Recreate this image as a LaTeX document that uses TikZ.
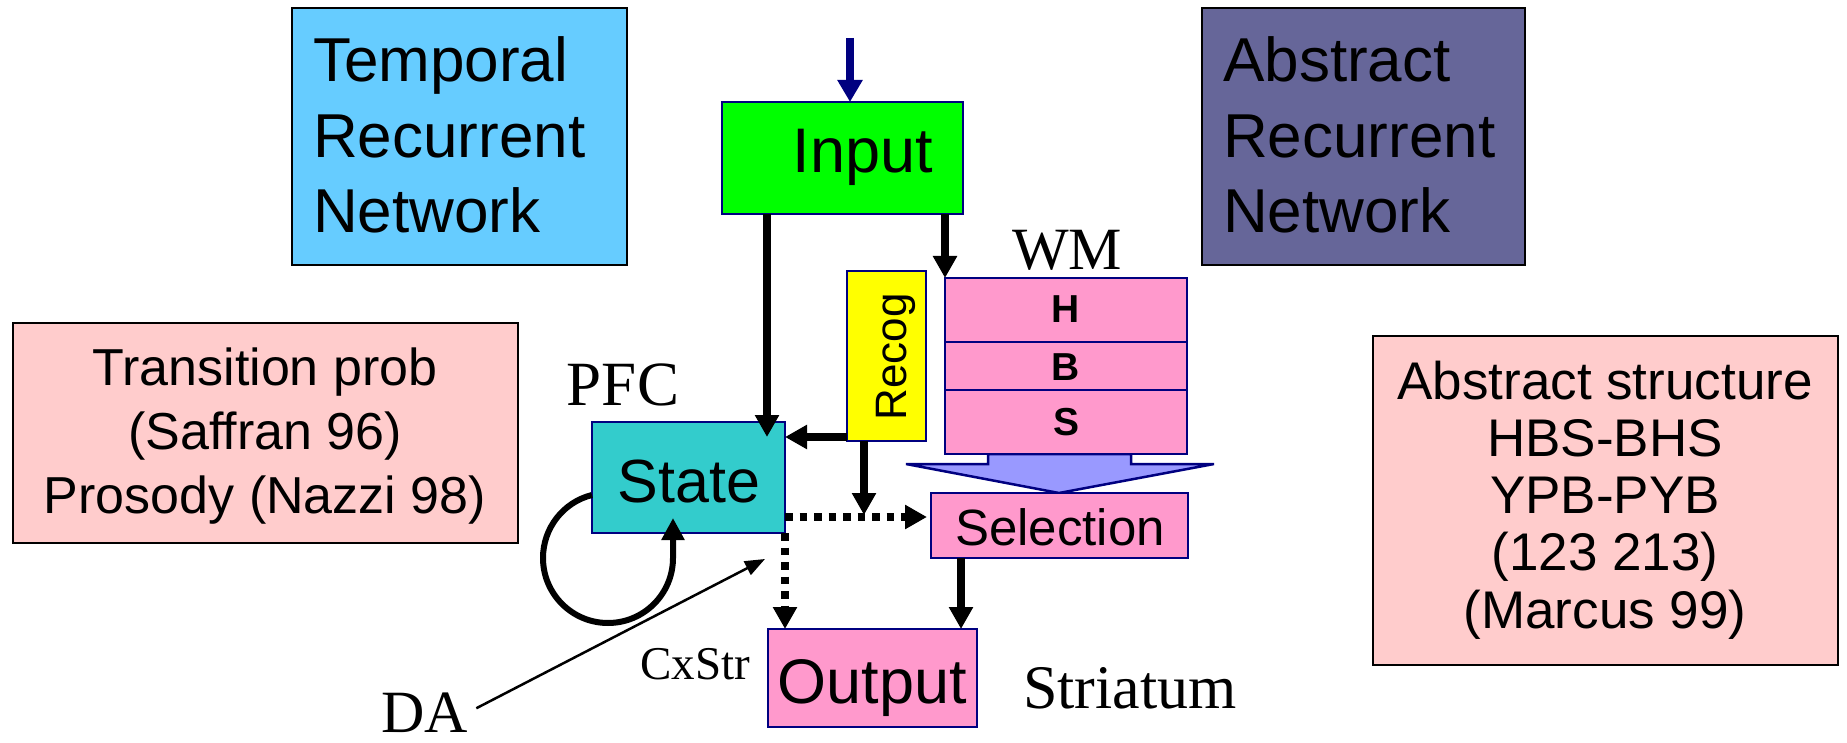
\documentclass[tikz,border=0pt]{standalone}
\usepackage{fontspec}
\setmainfont{Liberation Sans}
\newfontfamily\lserif{Liberation Serif}
\usetikzlibrary{arrows.meta}

\definecolor{navyline}{RGB}{0,0,128}
\definecolor{skyfill}{RGB}{102,204,255}
\definecolor{slatefill}{RGB}{102,102,153}
\definecolor{greenfill}{RGB}{0,255,0}
\definecolor{yellowfill}{RGB}{255,255,0}
\definecolor{pinkfill}{RGB}{255,153,204}
\definecolor{tealfill}{RGB}{51,204,204}
\definecolor{rosefill}{RGB}{255,204,204}
\definecolor{lavfill}{RGB}{153,153,255}

\tikzset{
  blk/.style={draw=navyline, line width=2.5pt, inner sep=0pt, outer sep=0pt, anchor=north west},
  note/.style={draw=black, line width=2.5pt, inner sep=0pt, outer sep=0pt, anchor=north west},
  lbl/.style={inner sep=0pt, outer sep=0pt, anchor=base},
  arr/.style={line width=7.5pt, -{Triangle[width=23pt,length=22pt]}},
  dotarr/.style={arr, dash pattern=on 7.5pt off 7pt},
  navyarr/.style={draw=navyline, line width=8pt, -{Triangle[width=24pt,length=22pt]}},
  loopline/.style={line width=6pt, -{Triangle[width=22pt,length=22pt]}},
  thinarr/.style={line width=2.5pt, -{Triangle[width=15pt,length=20pt]}},
}

\begin{document}
\begin{tikzpicture}[x=1pt,y=-1pt]
\fill[white] (0,0) rectangle (1847,743);
\useasboundingbox (0,0) rectangle (1847,743);

% network boxes at the top
\node[note, fill=skyfill, minimum width=335pt, minimum height=257pt] (temporal) at (292,8) {};
\node[inner sep=0pt, anchor=base west] (temporaltxt) at (313,82)
  {\parbox[t]{300pt}{\fontsize{62}{75.5}\selectfont Temporal\\Recurrent\\Network}};
\node[note, fill=slatefill, minimum width=323pt, minimum height=257pt] (abstractnet) at (1202,8) {};
\node[inner sep=0pt, anchor=base west] (abstractnettxt) at (1223,82)
  {\parbox[t]{300pt}{\fontsize{62}{75.5}\selectfont Abstract\\Recurrent\\Network}};

% side notes
\node[note, fill=rosefill, minimum width=505pt, minimum height=220pt] (transition) at (13,323) {};
\node[lbl] (transitiontxt) at (265,385)
  {\parbox[t]{480pt}{\centering\fontsize{52}{64}\selectfont Transition prob\\(Saffran 96)\\Prosody (Nazzi 98)}};
\node[note, fill=rosefill, minimum width=465pt, minimum height=329pt] (structure) at (1373,336) {};
\node[lbl] (structuretxt) at (1605,399)
  {\parbox[t]{460pt}{\centering\fontsize{53}{57.25}\selectfont Abstract structure\\HBS-BHS\\YPB-PYB\\(123 213)\\(Marcus 99)}};

% broad arrow from WM down to Selection
\draw[draw=navyline, fill=lavfill, line width=2.5pt, line join=miter]
  (988,454) -- (988,464) -- (906,464) -- (1059,493) -- (1214,464) -- (1131,464) -- (1131,454) -- cycle;

% model blocks
\node[blk, fill=greenfill, minimum width=241pt, minimum height=112pt] (input) at (722,102) {};
\node[lbl, font=\fontsize{63}{70}\selectfont] (inputtxt) at (863,173) {Input};

\node[blk, fill=yellowfill, minimum width=79pt, minimum height=170pt] (recog) at (847,271) {};
\node[lbl, rotate=90, font=\fontsize{44}{50}\selectfont] (recogtxt) at (906,357) {Recog};

\node[blk, fill=pinkfill, minimum width=242pt, minimum height=64pt] (wmH) at (945,278) {};
\node[blk, fill=pinkfill, minimum width=242pt, minimum height=48pt] (wmB) at (945,342) {};
\node[blk, fill=pinkfill, minimum width=242pt, minimum height=64pt] (wmS) at (945,390) {};
\node[lbl, font=\fontsize{39}{45}\selectfont\bfseries] (htxt) at (1066,323) {H};
\node[lbl, font=\fontsize{39}{45}\selectfont\bfseries] (btxt) at (1066,380) {B};
\node[lbl, font=\fontsize{39}{45}\selectfont\bfseries] (stxt) at (1066,435) {S};

\node[blk, fill=tealfill, minimum width=193pt, minimum height=111pt] (state) at (592,422) {};
\node[lbl, font=\fontsize{61}{70}\selectfont] (statetxt) at (689,502) {State};

\node[blk, fill=pinkfill, minimum width=257pt, minimum height=65pt] (selection) at (931,493) {};
\node[lbl, font=\fontsize{51}{60}\selectfont] (selectiontxt) at (1060,545) {Selection};

\node[blk, fill=pinkfill, minimum width=209pt, minimum height=98pt] (output) at (768,629) {};
\node[lbl, font=\fontsize{63}{70}\selectfont] (outputtxt) at (872,703) {Output};

% region labels
\node[lbl, font=\lserif\fontsize{60}{70}\selectfont] (wm) at (1067,270) {WM};
\node[lbl, font=\lserif\fontsize{63}{70}\selectfont] (pfc) at (623,405) {PFC};
\node[lbl, font=\lserif\fontsize{47}{55}\selectfont] (cxstr) at (695,679) {CxStr};
\node[lbl, font=\lserif\fontsize{62}{70}\selectfont] (striatum) at (1130,708) {Striatum};
\node[lbl, font=\lserif\fontsize{60}{70}\selectfont] (da) at (425,732) {DA};

% connectors
\coordinate (feed) at (850,38);
\draw[navyarr] (feed) -- (input.north -| feed);

\coordinate (stin) at (767,437);
\draw[arr] (input.south -| stin) -- (stin);
\draw[arr] (input.south -| wmH.north west) -- (wmH.north west);
\draw[arr] (recog.west |- stin) -- (state.east |- stin);

\coordinate (rcdown) at (864,515);
\draw[arr] (recog.south -| rcdown) -- (rcdown);

\coordinate (dotrow) at (785,517);
\draw[dotarr, shorten >=4pt] (state.east |- dotrow) -- (selection.west |- dotrow);
\draw[dotarr] (state.south east) -- (state.south east |- output.north);

\coordinate (selout) at (961,600);
\draw[arr] (selection.south -| selout) -- (output.north -| selout);

% recurrent loop on State
\draw[loopline] ([yshift=-17.5pt]state.west)
  .. controls (563.1,502.2) and (543,528.2) .. (543,558)
  .. controls (543,593.9) and (572.1,623) .. (608,623)
  .. controls (643.9,623) and (673,593.9) .. (673,558)
  -- ([xshift=-15.5pt,yshift=15pt]state.south);

% dopamine input
\coordinate (dahit) at (765,559);
\draw[thinarr] ([xshift=8pt,yshift=4pt]da.east) -- (dahit);
\end{tikzpicture}
\end{document}
